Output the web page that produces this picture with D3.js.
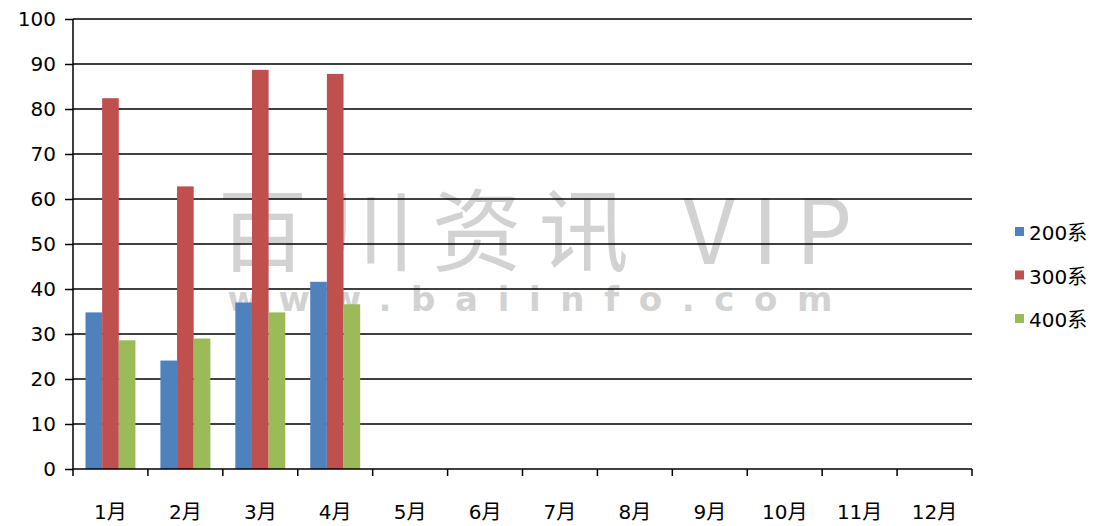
<!DOCTYPE html>
<html>
<head>
<meta charset="utf-8">
<script src="https://cdn.jsdelivr.net/npm/d3@7"></script>
<style>
  body { margin: 0; background: #fff; }
  svg { display: block; }
</style>
</head>
<body>
<div class="chart"></div>
<script>
// monthly values, only Jan-Apr reported
const months = ["1月", "2月", "3月", "4月", "5月", "6月", "7月", "8月", "9月", "10月", "11月", "12月"];
const seriesNames = ["200系", "300系", "400系"];
const s200 = [34.8, 24.1, 37.0, 41.6];
const s300 = [82.4, 62.8, 88.7, 87.8];
const s400 = [28.6, 29.0, 34.8, 36.6];
const yTicks = [0, 10, 20, 30, 40, 50, 60, 70, 80, 90, 100];
const colors = ["#4f81bd", "#c0504d", "#9bbb59"];

const allSeries = [s200, s300, s400];
const W = 1100, H = 526;
const margin = { top: 19, right: 128, bottom: 57, left: 73 };
const width = W - margin.left - margin.right,
      height = H - margin.top - margin.bottom;
const font = "'DejaVu Sans', 'Noto Sans CJK SC', sans-serif";
const cjk = "'Noto Sans CJK SC', sans-serif";

const svg = d3.select(".chart").append("svg")
    .attr("width", W)
    .attr("height", H);

// watermark
const wm = svg.append("g").attr("fill", "#d2d2d2");
wm.append("text")
    .attr("x", 535).attr("y", 264)
    .attr("text-anchor", "middle")
    .attr("font-family", cjk)
    .attr("font-size", 90)
    .attr("textLength", 635)
    .text("百川资讯 VIP");
wm.append("text")
    .attr("x", 530).attr("y", 311)
    .attr("text-anchor", "middle")
    .attr("font-family", "'DejaVu Sans', sans-serif")
    .attr("font-size", 34)
    .attr("font-weight", "bold")
    .attr("textLength", 605)
    .text("www.baiinfo.com");

const g = svg.append("g")
    .attr("transform", "translate(" + margin.left + "," + margin.top + ")");

var x = d3.scaleBand().domain(months).range([0, width]).paddingInner(0).paddingOuter(0);
var x1 = d3.scaleBand().domain(d3.range(seriesNames.length))
    .range([x.bandwidth() / 6, x.bandwidth() * 5 / 6]);
var y = d3.scaleLinear().domain([0, 100]).range([height, 0]);

// gridlines
g.selectAll(".grid")
    .data(yTicks.filter(d => d > 0))
    .enter().append("line")
    .attr("x1", 0).attr("x2", width)
    .attr("y1", d => y(d)).attr("y2", d => y(d))
    .attr("stroke", "#000").attr("stroke-width", 1.5);

// bars
allSeries.forEach((vals, si) => {
    g.selectAll(".bar" + si)
        .data(vals)
        .enter().append("rect")
        .attr("x", (d, i) => x(months[i]) + x1(si))
        .attr("width", x1.bandwidth())
        .attr("y", d => y(d))
        .attr("height", d => y(0) - y(d))
        .attr("fill", colors[si]);
});

// y axis
const yAxis = g.append("g")
    .call(d3.axisLeft(y).tickValues(yTicks).tickSize(8).tickPadding(9));
yAxis.select(".domain").attr("stroke", "#000").attr("stroke-width", 1.5).attr("d", "M0," + height + "V0");
yAxis.selectAll(".tick line").attr("stroke-width", 1.5);
yAxis.selectAll("text").attr("font-family", font).attr("font-size", 20).attr("fill", "#000");

// x axis, ticks at band edges
const xAxis = g.append("g").attr("transform", "translate(0," + height + ")");
xAxis.append("line").attr("x1", 0).attr("x2", width).attr("stroke", "#000").attr("stroke-width", 1.5);
xAxis.selectAll(".xt")
    .data(months.map(m => x(m)).concat([width]))
    .enter().append("line")
    .attr("x1", d => d).attr("x2", d => d)
    .attr("y1", 0).attr("y2", 7)
    .attr("stroke", "#000").attr("stroke-width", 1.5);
xAxis.selectAll(".xl")
    .data(months)
    .enter().append("text")
    .attr("x", d => x(d) + x.bandwidth() / 2)
    .attr("y", 50)
    .attr("text-anchor", "middle")
    .attr("font-family", font)
    .attr("font-size", 20)
    .text(d => d);

// legend
const legend = svg.append("g").attr("transform", "translate(1015,227)");
seriesNames.forEach((name, i) => {
    const row = legend.append("g").attr("transform", "translate(0," + i * 43.5 + ")");
    row.append("rect").attr("width", 9).attr("height", 9).attr("fill", colors[i]);
    row.append("text")
        .attr("x", 14).attr("y", 13)
        .attr("font-family", font)
        .attr("font-size", 20)
        .text(name);
});
</script>
</body>
</html>
